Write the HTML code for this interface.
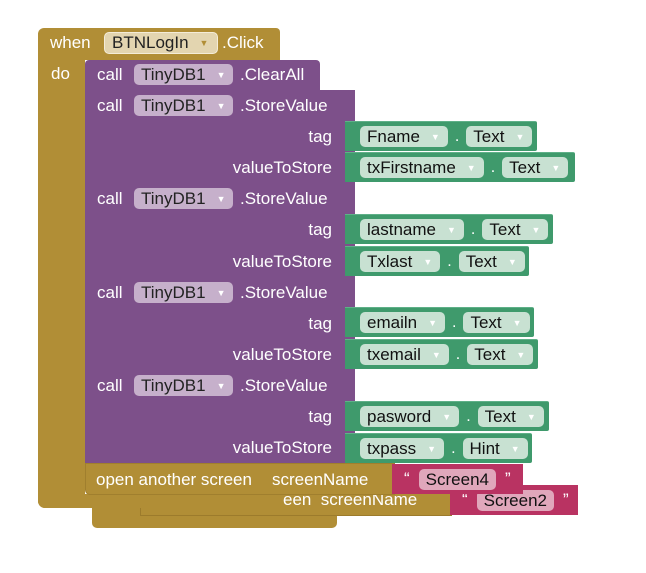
<!DOCTYPE html>
<html><head><style>
body{margin:0;width:646px;height:573px;background:#fff;position:relative;overflow:hidden;font-family:"Liberation Sans",Arial,sans-serif;font-size:17px}
.a{position:absolute;box-sizing:border-box}
.gold{background:#b18e36}
.pur{background:#7d508a;border-bottom:1px solid #6a4175}
.grn{background:#3f9a6c;border-top:1px solid #5fb088;display:flex;align-items:center;padding-left:15px;border-radius:0 2px 2px 0}
.pink{background:#b93362;display:flex;align-items:center}
.t{position:absolute;color:#fff;white-space:nowrap;line-height:18px}
.r{position:absolute;color:#fff;white-space:nowrap;line-height:18px;right:314px}
.dd{display:inline-block;border-radius:5px;padding:0 8px 0 7px;line-height:21px;height:21px;color:#111;white-space:nowrap}
.dd i{font-style:normal;font-size:9px;margin-left:11px;vertical-align:2px}
.dp{background:#c6b0cb;color:#222}
.dp i{color:#fff}
.dg{background:#c8e1d2}
.dg i{color:#fff}
.dot{color:#fff;margin:0 7px;font-size:16px}
</style></head><body>
<div class="a gold" style="left:92px;top:490px;width:245px;height:38px;border-radius:0 0 5px 5px"></div>
<div class="a gold" style="left:140px;top:486px;width:312px;height:30px;border:1px solid #9c7b2c"></div>
<div class="t" style="left:283px;top:491px">een &nbsp;screenName</div>
<div class="a pink" style="left:450px;top:485px;width:128px;height:30px;padding-left:12px"><span style="color:#fff">“</span><span class="dd" style="background:#e0a7bb;margin:0 9px;padding:0 7px">Screen2</span><span style="color:#fff">”</span></div>

<div class="a gold" style="left:38px;top:28px;width:242px;height:32px;border-radius:6px 4px 0 0"></div>
<div class="a gold" style="left:38px;top:58px;width:47px;height:450px;border-radius:0 0 0 7px"></div>
<div class="a gold" style="left:38px;top:494px;width:225px;height:14px;border-radius:0 0 5px 7px"></div>
<div class="t" style="left:50px;top:34px">when</div>
<div class="a dd" style="left:104px;top:32px;background:#e3d5b0;border:1px solid #f4ecd8;color:#222;height:22px;line-height:20px;width:114px">BTNLogIn<i style="color:#b18e36">▼</i></div>
<div class="t" style="left:222px;top:34px">.Click</div>
<div class="t" style="left:51px;top:65px">do</div>

<div class="a pur" style="left:85px;top:60px;width:235px;height:31px;border-radius:4px 4px 0 0"></div>
<div class="t" style="left:97px;top:66px">call</div>
<div class="a dd dp" style="left:134px;top:64px;width:99px">TinyDB1<i>▼</i></div>
<div class="t" style="left:240px;top:66px">.ClearAll</div>

<div class="a pur" style="left:85px;top:90px;width:270px;height:94px"></div>
<div class="a pur" style="left:85px;top:183px;width:270px;height:94px"></div>
<div class="a pur" style="left:85px;top:276px;width:270px;height:94px"></div>
<div class="a pur" style="left:85px;top:369px;width:270px;height:95px"></div>

<div class="t" style="left:97px;top:97px">call</div><div class="a dd dp" style="left:134px;top:95px;width:99px">TinyDB1<i>▼</i></div><div class="t" style="left:240px;top:97px">.StoreValue</div>
<div class="r" style="top:128px">tag</div><div class="r" style="top:159px">valueToStore</div>
<div class="t" style="left:97px;top:190px">call</div><div class="a dd dp" style="left:134px;top:188px;width:99px">TinyDB1<i>▼</i></div><div class="t" style="left:240px;top:190px">.StoreValue</div>
<div class="r" style="top:221px">tag</div><div class="r" style="top:253px">valueToStore</div>
<div class="t" style="left:97px;top:284px">call</div><div class="a dd dp" style="left:134px;top:282px;width:99px">TinyDB1<i>▼</i></div><div class="t" style="left:240px;top:284px">.StoreValue</div>
<div class="r" style="top:315px">tag</div><div class="r" style="top:346px">valueToStore</div>
<div class="t" style="left:97px;top:377px">call</div><div class="a dd dp" style="left:134px;top:375px;width:99px">TinyDB1<i>▼</i></div><div class="t" style="left:240px;top:377px">.StoreValue</div>
<div class="r" style="top:408px">tag</div><div class="r" style="top:439px">valueToStore</div>

<div class="a grn" style="left:345px;top:121px;width:192px;height:30px"><span class="dd dg">Fname<i>▼</i></span><span class="dot">.</span><span class="dd dg">Text<i>▼</i></span></div>
<div class="a grn" style="left:345px;top:152px;width:230px;height:30px"><span class="dd dg">txFirstname<i>▼</i></span><span class="dot">.</span><span class="dd dg">Text<i>▼</i></span></div>
<div class="a grn" style="left:345px;top:214px;width:208px;height:30px"><span class="dd dg">lastname<i>▼</i></span><span class="dot">.</span><span class="dd dg">Text<i>▼</i></span></div>
<div class="a grn" style="left:345px;top:246px;width:184px;height:30px"><span class="dd dg">Txlast<i>▼</i></span><span class="dot">.</span><span class="dd dg">Text<i>▼</i></span></div>
<div class="a grn" style="left:345px;top:307px;width:189px;height:30px"><span class="dd dg">emailn<i>▼</i></span><span class="dot">.</span><span class="dd dg">Text<i>▼</i></span></div>
<div class="a grn" style="left:345px;top:339px;width:193px;height:30px"><span class="dd dg">txemail<i>▼</i></span><span class="dot">.</span><span class="dd dg">Text<i>▼</i></span></div>
<div class="a grn" style="left:345px;top:401px;width:204px;height:30px"><span class="dd dg">pasword<i>▼</i></span><span class="dot">.</span><span class="dd dg">Text<i>▼</i></span></div>
<div class="a grn" style="left:345px;top:433px;width:187px;height:30px"><span class="dd dg">txpass<i>▼</i></span><span class="dot">.</span><span class="dd dg">Hint<i>▼</i></span></div>

<div class="a gold" style="left:85px;top:463px;width:310px;height:32px;border:1px solid #a07f2e;border-radius:0 0 0 5px"></div>
<div class="t" style="left:96px;top:471px">open another screen</div>
<div class="t" style="left:272px;top:471px">screenName</div>
<div class="a pink" style="left:392px;top:464px;width:131px;height:30px;padding-left:12px"><span style="color:#fff">“</span><span class="dd" style="background:#e0a7bb;margin:0 9px;padding:0 7px">Screen4</span><span style="color:#fff">”</span></div>
</body></html>
